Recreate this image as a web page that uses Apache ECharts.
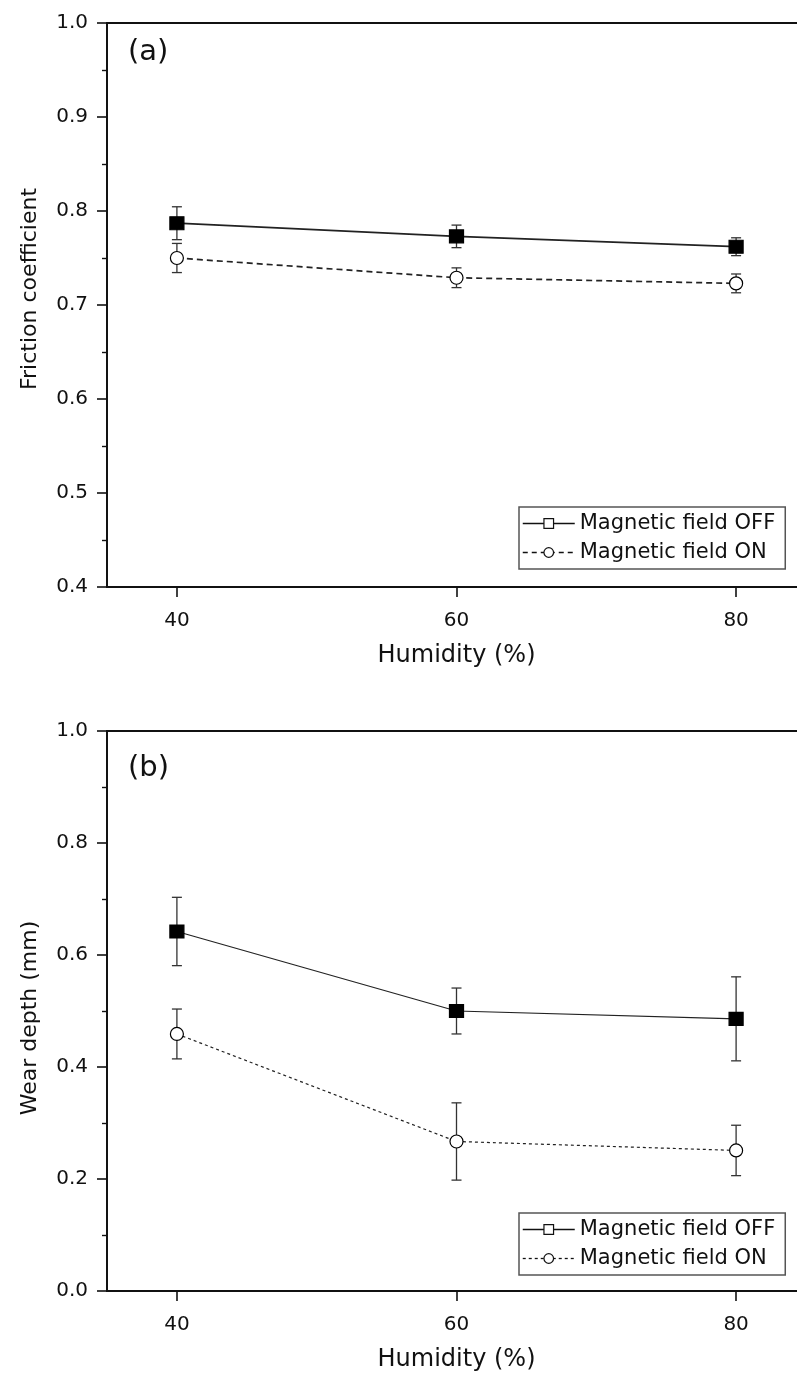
<!DOCTYPE html>
<html>
<head>
<meta charset="utf-8">
<script src="https://cdn.jsdelivr.net/npm/echarts@6/dist/echarts.min.js"></script>
<style>
html,body{margin:0;padding:0;background:#fff;overflow:hidden;}
#chart{width:797px;height:1375px;}
</style>
</head>
<body>
<div id="chart"></div>
<script>
// ---- data ----
const humidity = [40, 60, 80];
const xTicks = [40, 60, 80];
const frictionOff = [0.787, 0.773, 0.762];
const frictionOffErr = [0.0175, 0.012, 0.0095];
const frictionOn = [0.750, 0.729, 0.723];
const frictionOnErr = [0.0155, 0.0105, 0.010];
const wearOff = [0.642, 0.500, 0.486];
const wearOffErr = [0.061, 0.041, 0.075];
const wearOn = [0.459, 0.267, 0.251];
const wearOnErr = [0.0445, 0.069, 0.045];
const seriesNames = ['Magnetic field OFF', 'Magnetic field ON'];
const panelLabels = ['(a)', '(b)'];
const yTitles = ['Friction coefficient', 'Wear depth (mm)'];
const xTitle = 'Humidity (%)';

const FONT = 'DejaVu Sans';
const INK = '#111';

function pts(vals){ return humidity.map((x,i)=>[x, vals[i]]); }
function errs(vals, e){ return humidity.map((x,i)=>[x, vals[i]-e[i], vals[i]+e[i]]); }

function errRender(params, api){
  const x = api.value(0), lo = api.value(1), hi = api.value(2);
  const a = api.coord([x, lo]), b = api.coord([x, hi]);
  const w = 5;
  const st = {stroke:'#333', lineWidth:1.3};
  return {type:'group', children:[
    {type:'line', shape:{x1:a[0], y1:a[1], x2:b[0], y2:b[1]}, style:st},
    {type:'line', shape:{x1:a[0]-w, y1:a[1], x2:a[0]+w, y2:a[1]}, style:st},
    {type:'line', shape:{x1:b[0]-w, y1:b[1], x2:b[0]+w, y2:b[1]}, style:st}
  ]};
}

function xAxisCfg(gi){
  return {
    type:'value', gridIndex:gi, min:35, max:85,
    name:xTitle, nameLocation:'middle', nameGap:57,
    nameTextStyle:{fontFamily:FONT, fontSize:24, color:INK},
    axisLine:{show:true, onZero:false, lineStyle:{color:INK, width:1.8}},
    axisTick:{show:true, length:10, customValues:xTicks, lineStyle:{color:INK, width:1.6}},
    axisLabel:{show:true, customValues:xTicks, margin:24, fontFamily:FONT, fontSize:20, color:INK},
    splitLine:{show:false}
  };
}
function yAxisCfg(gi, min, max, interval, title, pad){
  return {
    type:'value', gridIndex:gi, min:min, max:max, interval:interval,
    name:title, nameLocation:'middle', nameGap:66, nameRotate:90,
    nameTextStyle:{fontFamily:FONT, fontSize:22, color:INK, padding:pad},
    axisLine:{show:true, onZero:false, lineStyle:{color:INK, width:1.8}},
    axisTick:{show:true, length:10, lineStyle:{color:INK, width:1.6}},
    minorTick:{show:true, splitNumber:2, length:5, lineStyle:{color:INK, width:1.4}},
    axisLabel:{margin:19, fontFamily:FONT, fontSize:20, color:INK,
      formatter:v=>v.toFixed(1)},
    splitLine:{show:false}, minorSplitLine:{show:false}
  };
}
function legendCfg(top, dashOn){
  return {
    orient:'vertical', left:519, top:top,
    padding:[6,10,6,3], itemGap:8, itemWidth:52, itemHeight:12,
    borderColor:'#555', borderWidth:1.5, backgroundColor:'#fff',
    textStyle:{fontFamily:FONT, fontSize:21, color:INK},
    data:[
      {name:seriesNames[0],
       itemStyle:{color:'#fff', borderColor:'#111', borderWidth:1.2},
       lineStyle:{color:'#111', width:1.5, type:'solid'}},
      {name:seriesNames[1],
       itemStyle:{color:'#fff', borderColor:'#111', borderWidth:1.2},
       lineStyle:{color:'#111', width:1.3, type:dashOn}}
    ]
  };
}
function lineSeries(name, gi, data, symbol, size, filled, lw, type){
  return {
    type:'line', name:name, xAxisIndex:gi, yAxisIndex:gi, data:data,
    symbol:symbol, symbolSize:size, showSymbol:true, z:5,
    lineStyle:{color:'#222', width:lw, type:type},
    itemStyle:{color: filled ? '#000' : '#fff', borderColor:'#000', borderWidth:1.2, opacity:1},
    emphasis:{disabled:true}
  };
}
function errSeries(gi, data){
  return {type:'custom', name:'err'+gi, xAxisIndex:gi, yAxisIndex:gi,
    renderItem:errRender, data:data, encode:{x:0, y:[1,2]}, z:2, silent:true};
}

const chart = echarts.init(document.getElementById('chart'), null, {renderer:'canvas'});
chart.setOption({
  animation:false,
  backgroundColor:'#fff',
  title:[
    {text:panelLabels[0], left:128, top:38, padding:0,
     textStyle:{fontFamily:FONT, fontSize:29, fontWeight:'normal', color:INK}},
    {text:panelLabels[1], left:128, top:754, padding:0,
     textStyle:{fontFamily:FONT, fontSize:29, fontWeight:'normal', color:INK}}
  ],
  grid:[
    {left:107, width:699, top:23, height:564, outerBoundsMode:'none', containLabel:false,
     show:true, borderColor:INK, borderWidth:1.8},
    {left:107, width:699, top:731, height:560, outerBoundsMode:'none', containLabel:false,
     show:true, borderColor:INK, borderWidth:1.8}
  ],
  xAxis:[xAxisCfg(0), xAxisCfg(1)],
  yAxis:[
    yAxisCfg(0, 0.4, 1.0, 0.1, yTitles[0], [0,0,0,32]),
    yAxisCfg(1, 0, 1.0, 0.2, yTitles[1], [0,14,0,0])
  ],
  legend:[legendCfg(507, [5,4]), legendCfg(1213, [3,3])],
  series:[
    errSeries(0, errs(frictionOff, frictionOffErr)),
    errSeries(0, errs(frictionOn, frictionOnErr)),
    lineSeries(seriesNames[0], 0, pts(frictionOff), 'rect', [14,13], true, 1.7, 'solid'),
    lineSeries(seriesNames[1], 0, pts(frictionOn), 'circle', [13,13], false, 1.7, [6,4]),
    errSeries(1, errs(wearOff, wearOffErr)),
    errSeries(1, errs(wearOn, wearOnErr)),
    lineSeries(seriesNames[0], 1, pts(wearOff), 'rect', [14,13], true, 1.2, 'solid'),
    lineSeries(seriesNames[1], 1, pts(wearOn), 'circle', [13,13], false, 1.2, [3,3])
  ]
});
</script>
</body>
</html>
